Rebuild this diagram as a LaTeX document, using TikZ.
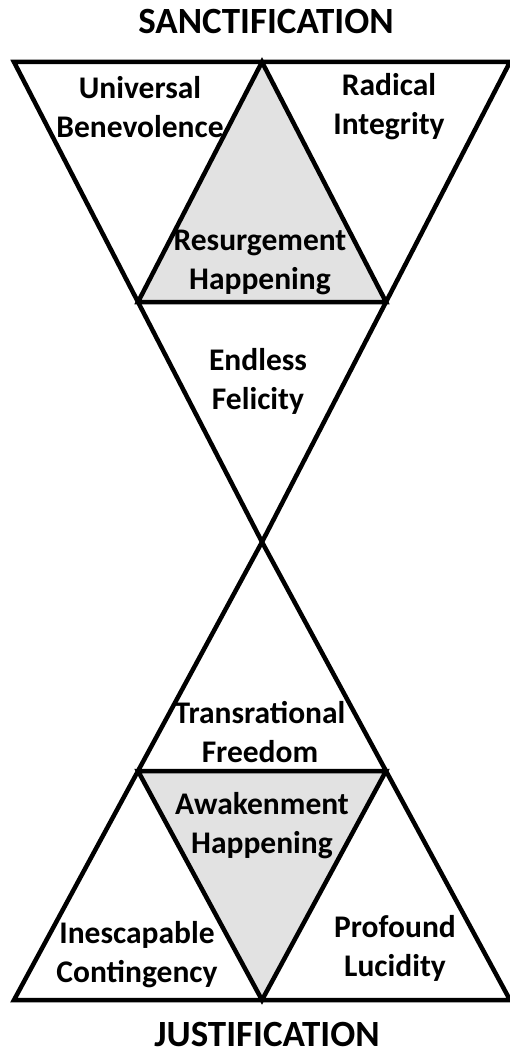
\documentclass[tikz,border=0pt]{standalone}
\usepackage{fontspec}
\setmainfont{Carlito}
\usetikzlibrary{positioning}
\definecolor{shadegray}{RGB}{226,226,226}
\tikzset{
  tri/.style={draw=black, line width=4.5pt, line join=miter},
  innertri/.style={tri, fill=shadegray},
  lbl/.style={align=center, inner sep=0pt, font=\fontsize{31.5}{39}\selectfont\bfseries},
  ttl/.style={inner sep=0pt, anchor=base, font=\fontsize{37}{40}\selectfont\bfseries},
}
\begin{document}
\begin{tikzpicture}[x=1pt,y=-1pt]
    \useasboundingbox (0,0) rectangle (509,1056);
    % corners of the hourglass
    \coordinate (topleft) at (14,62);
    \coordinate (topright) at (510,62);
    \coordinate (topmid) at (262,62);
    \coordinate (waist) at (262,542);
    \coordinate (upleft) at (138,302);
    \coordinate (upright) at (386,302);
    \coordinate (lowleft) at (138,771);
    \coordinate (lowright) at (386,771);
    \coordinate (botleft) at (14,1000);
    \coordinate (botright) at (510,1000);
    \coordinate (botmid) at (262,1000);
    % shaded inner triangles
    \fill[shadegray] (topmid) -- (upleft) -- (upright) -- cycle;
    \fill[shadegray] (lowleft) -- (lowright) -- (botmid) -- cycle;
    % outer triangles
    \draw[tri] (topleft) -- (topright) -- (waist) -- cycle;
    \draw[tri] (waist) -- (botright) -- (botleft) -- cycle;
    % inner triangles
    \draw[tri] (topmid) -- (upleft) -- (upright) -- cycle;
    \draw[tri] (lowleft) -- (lowright) -- (botmid) -- cycle;
    % labels
    \node[ttl] (sanct) at (266,34) {SANCTIFICATION};
    \node[ttl] (justif) at (267,1046) {JUSTIFICATION};
    \node[lbl] (benev) at (140,107) {Universal\\Benevolence};
    \node[lbl] (integ) at (389,107) {Radical\\Integrity};
    \node[lbl] (resurg) at (260,262) {Resurgement\\Happening};
    \node[lbl] (felic) at (258,381) {Endless\\Felicity};
    \node[lbl] (freedom) at (260,732) {Transrational\\Freedom};
    \node[lbl] (awaken) at (262,826) {Awakenment\\Happening};
    \node[lbl] (conting) at (137,955) {Inescapable\\Contingency};
    \node[lbl] (lucid) at (395,948) {Profound\\Lucidity};
  \end{tikzpicture}
\end{document}
